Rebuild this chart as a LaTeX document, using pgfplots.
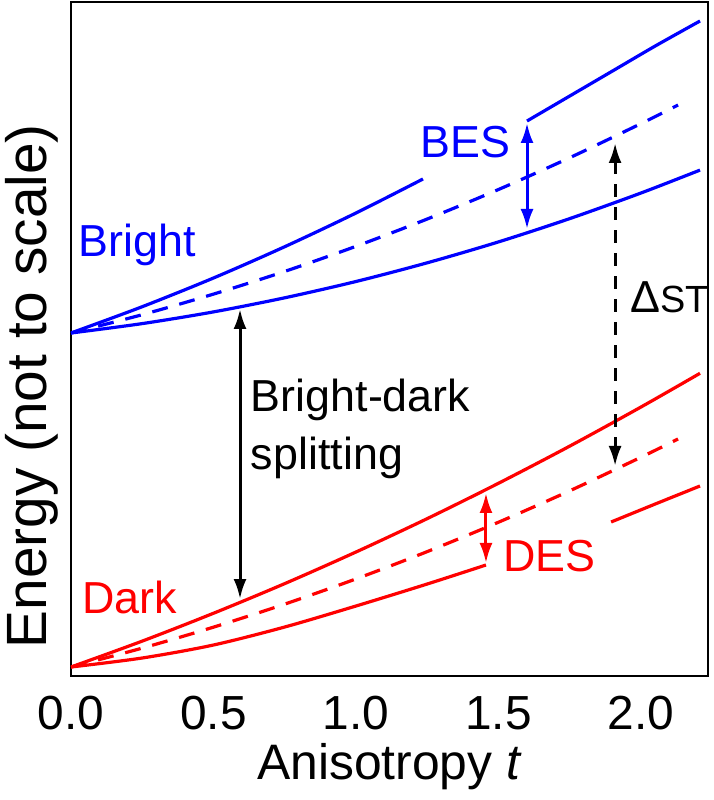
\documentclass[border=0pt]{standalone}
\usepackage{fontspec}
\setmainfont{Liberation Sans}
\usepackage{pgfplots}
\pgfplotsset{compat=1.18}
\usetikzlibrary{arrows.meta}
\definecolor{myblue}{RGB}{0,0,255}
\definecolor{myred}{RGB}{255,0,0}
\tikzset{dbl/.style={{Latex[length=10bp,width=6.5bp]}-{Latex[length=10bp,width=6.5bp]}}}
\begin{document}
\begin{tikzpicture}[font=\fontsize{22.5}{27}\selectfont]
\begin{axis}[
  scale only axis, width=318.5bp, height=337bp,
  xmin=0, xmax=2.235, ymin=0, ymax=674,
  xtick={0,0.5,1,1.5,2}, xticklabels={0.0,0.5,1.0,1.5,2.0},
  ytick=\empty, major tick length=0pt,
  axis line style={line width=1.4bp},
  every tick label/.append style={font=\fontsize{24}{28}\selectfont},
  xticklabel style={anchor=base, yshift=-26.5bp},
  xlabel={Anisotropy \textit{t}},
  xlabel style={at={(axis description cs:0.5,-0.154)}, anchor=base, inner sep=0pt, font=\fontsize{25}{30}\selectfont},
  ylabel={Energy (not to scale)},
  ylabel style={at={(axis description cs:-0.039,0.43)}, anchor=base, inner sep=0pt, font=\fontsize{28.5}{33}\selectfont},
]
% blue curves
\addplot[myblue, line width=1.6bp, smooth] coordinates {(0,343) (0.25,352.4) (0.5,364.1) (0.75,378.2) (1.0,394.5) (1.25,413.2) (1.5,434.1) (1.75,457.4) (2.0,483) (2.207,505.9)};
\addplot[myblue, line width=1.6bp, smooth, dash pattern=on 8bp off 6bp] coordinates {(0,343) (0.25,361.3) (0.5,381.9) (0.75,404.6) (1.0,429.7) (1.25,457) (1.5,486.5) (1.75,518.3) (2.0,552.4) (2.13,571)};
\addplot[myblue, line width=1.6bp, smooth] coordinates {(0,343) (0.25,369.3) (0.5,398) (0.75,429.3) (1.0,463) (1.235,497)};
\addplot[myblue, line width=1.6bp, smooth] coordinates {(1.6,555) (1.9,605) (2.05,630) (2.207,655)};
% red curves
\addplot[myred, line width=1.6bp, smooth] coordinates {(0,9) (0.25,34.9) (0.5,62.75) (0.75,92.4) (1.0,124) (1.25,157.4) (1.5,192.75) (1.75,229.9) (2.0,269) (2.207,302.7)};
\addplot[myred, line width=1.6bp, smooth, dash pattern=on 8bp off 6bp] coordinates {(0,9) (0.25,27.9) (0.5,48.85) (0.75,71.9) (1.0,97.1) (1.25,124.4) (1.5,153.8) (1.75,185.2) (2.0,218.8) (2.13,237)};
\addplot[myred, line width=1.6bp, smooth] coordinates {(0,9) (0.25,18) (0.5,31) (0.75,49) (1.0,70) (1.25,92) (1.456,111)};
\addplot[myred, line width=1.6bp, smooth] coordinates {(1.895,154) (2.05,172) (2.207,190)};
% arrows
\addplot[black, line width=1.5bp, dbl] coordinates {(0.593,367) (0.593,77)};
\addplot[myblue, line width=1.5bp, dbl] coordinates {(1.6,553) (1.6,447)};
\addplot[myred, line width=1.5bp, dbl] coordinates {(1.456,183) (1.456,113)};
\addplot[black, line width=1.5bp, dash pattern=on 6.5bp off 5bp, dbl] coordinates {(1.909,533) (1.909,210)};
% labels
\node[myblue, anchor=base west, inner sep=0pt] at (axis cs:0.0246,419) {Bright};
\node[myred, anchor=base west, inner sep=0pt] at (axis cs:0.0386,63) {Dark};
\node[myblue, anchor=base west, inner sep=0pt] at (axis cs:1.225,518) {BES};
\node[myred, anchor=base west, inner sep=0pt] at (axis cs:1.515,105) {DES};
\node[black, anchor=base west, inner sep=0pt] at (axis cs:1.961,363) {Δ{\fontsize{19}{22}\selectfont ST}};
\node[black, anchor=base west, inner sep=0pt] at (axis cs:0.63,264) {Bright-dark};
\node[black, anchor=base west, inner sep=0pt] at (axis cs:0.63,206) {splitting};
\coordinate (bl) at (rel axis cs:0,0);
\coordinate (tr) at (rel axis cs:1,1);
\end{axis}
\pgfresetboundingbox
\path[use as bounding box] ([shift={(-35.5bp,-62bp)}]bl) rectangle ([shift={(3bp,1bp)}]tr);
\end{tikzpicture}
\end{document}
